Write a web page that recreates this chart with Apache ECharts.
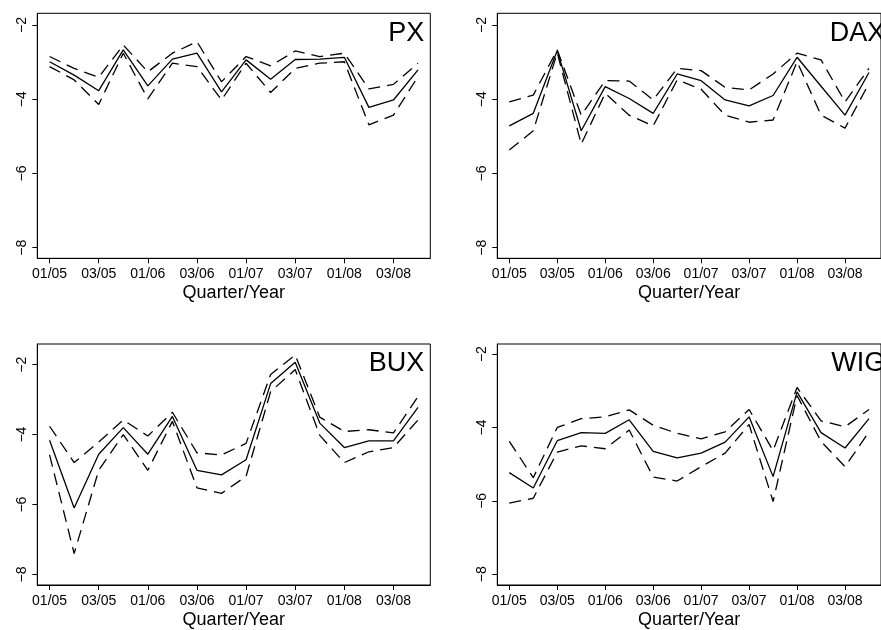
<!DOCTYPE html>
<html>
<head>
<meta charset="utf-8">
<script src="https://cdn.jsdelivr.net/npm/echarts@6/dist/echarts.min.js"></script>
<style>
  html, body { margin: 0; padding: 0; background: #fff; }
  #main { width: 881px; height: 630px; }
</style>
</head>
<body>
<div id="main"></div>
<script>
// quarters 01/05 .. 04/08
const quarters = ['01/05','02/05','03/05','04/05','01/06','02/06','03/06','04/06',
                  '01/07','02/07','03/07','04/07','01/08','02/08','03/08','04/08'];
const yTicks = [-8, -6, -4, -2];

const pxMid = [-2.99,-3.35,-3.77,-2.67,-3.64,-2.92,-2.76,-3.80,-2.94,-3.46,-2.93,-2.92,-2.87,-4.22,-4.02,-3.21];
const pxHi  = [-2.85,-3.17,-3.41,-2.54,-3.26,-2.76,-2.45,-3.53,-2.85,-3.10,-2.70,-2.85,-2.76,-3.72,-3.60,-3.03];
const pxLo  = [-3.12,-3.48,-4.14,-2.76,-3.99,-3.03,-3.12,-4.02,-3.03,-3.82,-3.17,-3.03,-2.99,-4.69,-4.43,-3.39];

const daxMid = [-4.72,-4.38,-2.69,-4.85,-3.66,-3.98,-4.38,-3.32,-3.50,-4.02,-4.18,-3.90,-2.87,-3.65,-4.43,-3.28];
const daxHi  = [-4.07,-3.89,-2.67,-4.43,-3.50,-3.51,-4.02,-3.17,-3.23,-3.68,-3.75,-3.32,-2.76,-2.94,-4.07,-3.17];
const daxLo  = [-5.37,-4.85,-2.75,-5.21,-3.84,-4.43,-4.72,-3.48,-3.73,-4.43,-4.62,-4.56,-2.99,-4.43,-4.78,-3.57];

const buxMid = [-4.16,-6.10,-4.56,-3.80,-4.56,-3.48,-5.02,-5.15,-4.72,-2.54,-1.93,-3.67,-4.37,-4.18,-4.18,-3.22];
const buxHi  = [-3.76,-4.80,-4.21,-3.58,-4.04,-3.36,-4.52,-4.58,-4.25,-2.28,-1.72,-3.50,-3.91,-3.86,-3.95,-2.91];
const buxLo  = [-4.58,-7.40,-5.02,-4.00,-5.02,-3.62,-5.52,-5.68,-5.19,-2.77,-2.14,-4.02,-4.80,-4.49,-4.37,-3.58];

const wigMid = [-5.23,-5.65,-4.36,-4.14,-4.16,-3.79,-4.65,-4.83,-4.70,-4.40,-3.71,-5.34,-3.03,-4.14,-4.56,-3.76];
const wigHi  = [-4.38,-5.37,-4.00,-3.76,-3.71,-3.52,-3.94,-4.16,-4.31,-4.12,-3.51,-4.63,-2.91,-3.82,-3.98,-3.51];
const wigLo  = [-6.06,-5.93,-4.67,-4.50,-4.58,-4.07,-5.35,-5.46,-5.07,-4.70,-3.92,-6.02,-3.13,-4.38,-5.07,-4.12];

const FONT = '"Liberation Sans", Arial, sans-serif';

const panels = [
  { name: 'PX',  mid: pxMid,  hi: pxHi,  lo: pxLo,  left: 37.3,  top: 13.3, width: 393, min: -8.286, max: -1.685 },
  { name: 'DAX', mid: daxMid, hi: daxHi, lo: daxLo, left: 497.3, top: 13.3, width: 394, min: -8.286, max: -1.685 },
  { name: 'BUX', mid: buxMid, hi: buxHi, lo: buxLo, left: 37.3,  top: 344,  width: 393, min: -8.30,  max: -1.408 },
  { name: 'WIG', mid: wigMid, hi: wigHi, lo: wigLo, left: 497.3, top: 344,  width: 394, min: -8.295, max: -1.724 }
];

const grid = [], xAxis = [], yAxis = [], series = [], graphic = [];

panels.forEach((p, i) => {
  grid.push({
    left: p.left, top: p.top, width: p.width, height: 245,
    show: true, borderColor: '#000', borderWidth: 1, backgroundColor: 'transparent'
  });
  xAxis.push({
    gridIndex: i,
    type: 'category',
    data: quarters,
    boundaryGap: true,
    name: 'Quarter/Year',
    nameLocation: 'middle',
    nameGap: 26,
    nameTextStyle: { color: '#000', fontSize: 18, fontFamily: FONT },
    axisLine: { show: true, lineStyle: { color: '#000', width: 1 } },
    axisTick: { show: true, interval: 1, alignWithLabel: true, length: 5, lineStyle: { color: '#000' } },
    axisLabel: { interval: 1, color: '#000', fontSize: 14, fontFamily: FONT, margin: 9 },
    splitLine: { show: false }
  });
  yAxis.push({
    gridIndex: i,
    type: 'value',
    min: p.min,
    max: p.max,
    axisLine: { show: true, lineStyle: { color: '#000', width: 1 } },
    axisTick: { show: true, length: 5, customValues: yTicks, lineStyle: { color: '#000' } },
    axisLabel: {
      customValues: yTicks, rotate: 90, color: '#000', fontSize: 14, fontFamily: FONT, margin: 8,
      formatter: v => String(v).replace('-', '\u2212')
    },
    splitLine: { show: false }
  });
  [[p.hi, [12, 7]], [p.mid, 'solid'], [p.lo, [12, 7]]].forEach(([d, t]) => {
    series.push({
      type: 'line',
      xAxisIndex: i,
      yAxisIndex: i,
      data: d,
      symbol: 'none',
      lineStyle: { color: '#000', width: 1.3, type: t },
      silent: true
    });
  });
  graphic.push({
    type: 'text',
    x: p.left + p.width - 6,
    y: p.top + 20,
    style: { text: p.name, fill: '#000', font: '27px ' + FONT, align: 'right', verticalAlign: 'middle' }
  });
});

const chart = echarts.init(document.getElementById('main'));
chart.setOption({
  animation: false,
  backgroundColor: '#fff',
  grid: grid,
  xAxis: xAxis,
  yAxis: yAxis,
  series: series,
  graphic: graphic
});
</script>
</body>
</html>
